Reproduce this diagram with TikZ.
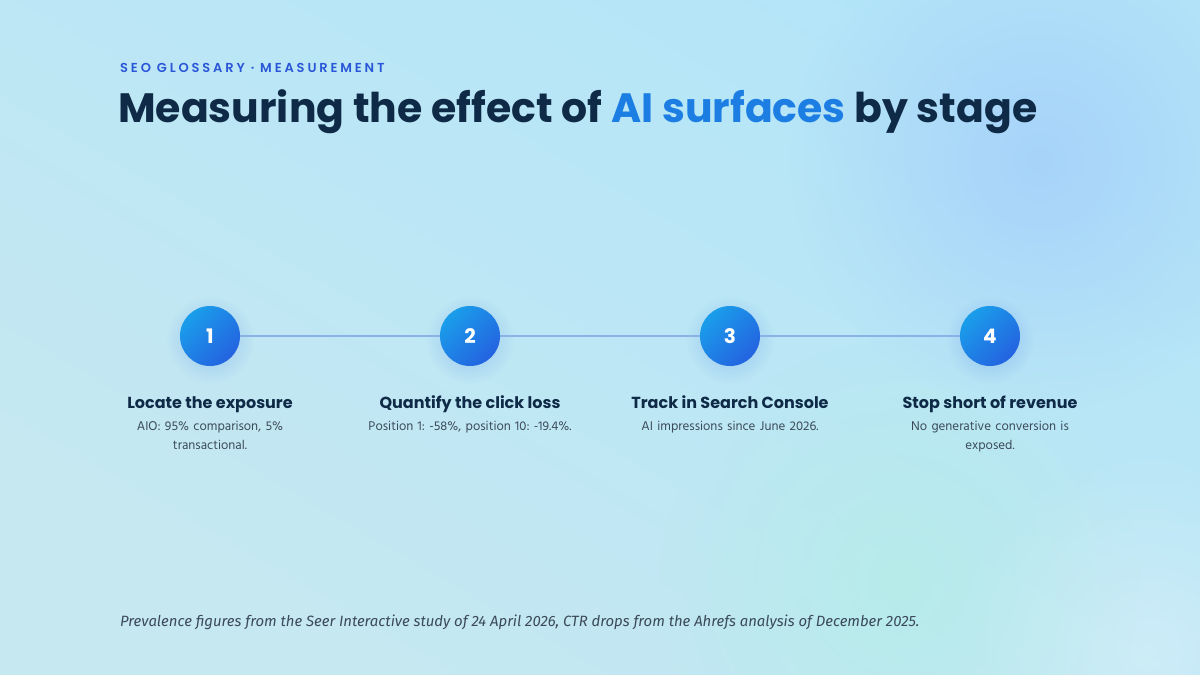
\documentclass[tikz,border=0pt]{standalone}
\usepackage{fontspec}
\usetikzlibrary{fadings}
\frenchspacing
\newfontfamily\titlefont{Poppins}[UprightFont=* Bold]
\newfontfamily\headfont{Poppins}[UprightFont=* Bold]
\newfontfamily\eyefont{Poppins}[UprightFont=* SemiBold, LetterSpace=22]
\newfontfamily\bodyfont{Hind Madurai}
\newfontfamily\footfont{Fira Sans}[UprightFont=* Italic]
\definecolor{bgA}{HTML}{B3E5F8}
\definecolor{bgB}{HTML}{C6E8F1}
\definecolor{blobblue}{HTML}{A6D2FA}
\definecolor{blobteal}{HTML}{B4EEE6}
\definecolor{navy}{HTML}{0E2A46}
\definecolor{accent}{HTML}{1C7EE3}
\definecolor{eyeblue}{HTML}{2A56D8}
\definecolor{bodygray}{HTML}{3B4A5A}
\definecolor{cA}{HTML}{1A9EEA}
\definecolor{cB}{HTML}{2462E0}
\definecolor{linec}{HTML}{8AB2E6}
\tikzfading[name=softblob, inner color=transparent!0, outer color=transparent!100]
\tikzset{
  stepcircle/.style={circle, minimum size=60pt, inner sep=0pt, top color=cA, bottom color=cB, shading angle=45, text=white, font=\titlefont\fontsize{20}{24}\selectfont},
  stephead/.style={anchor=base, text=navy, font=\headfont\fontsize{16}{18}\selectfont},
  stepbody/.style={anchor=north, text=bodygray, align=center, text width=240pt, font=\bodyfont\fontsize{13}{19}\selectfont},
  link/.style={draw=linec, line width=2pt},
  glow/.style={fill=cB, opacity=0.28, path fading=softblob}
}
\begin{document}
\begin{tikzpicture}[x=1pt,y=-1pt]
\useasboundingbox (0,0) rectangle (1200,675);
\shade[top color=bgA, bottom color=bgB, shading angle=-30] (0,0) rectangle (1200,675);
\fill[blobblue, opacity=0.95, path fading=softblob] (1040,160) circle (250);
\fill[blobteal, opacity=0.7, path fading=softblob] (900,580) circle (240);
\fill[white, opacity=0.25, path fading=softblob] (1150,650) circle (200);
% header
\node[anchor=base west, inner sep=0pt, text=eyeblue, font=\eyefont\fontsize{13}{15}\selectfont] (eyebrow) at (120,72) {SEO GLOSSARY · MEASUREMENT};
\node[anchor=base west, inner sep=0pt, text=navy, font=\titlefont\fontsize{41}{46}\selectfont] (title) at (118,122) {Measuring the effect of \textcolor{accent}{AI surfaces} by stage};
% glows
\foreach \x in {210,470,730,990} \fill[glow] (\x,340) circle (44);
% circles
\node[stepcircle] (c1) at (210,336) {1};
\node[stepcircle] (c2) at (470,336) {2};
\node[stepcircle] (c3) at (730,336) {3};
\node[stepcircle] (c4) at (990,336) {4};
\draw[link] (c1) -- (c2);
\draw[link] (c2) -- (c3);
\draw[link] (c3) -- (c4);
% headings
\node[stephead] (h1) at (210,408) {Locate the exposure};
\node[stephead] (h2) at (470,408) {Quantify the click loss};
\node[stephead] (h3) at (730,408) {Track in Search Console};
\node[stephead] (h4) at (990,408) {Stop short of revenue};
% bodies
\node[stepbody] (d1) at (210,418) {AIO: 95\% comparison, 5\%\\ transactional.};
\node[stepbody] (d2) at (470,418) {Position 1: -58\%, position 10: -19.4\%.};
\node[stepbody] (d3) at (730,418) {AI impressions since June 2026.};
\node[stepbody] (d4) at (990,418) {No generative conversion is\\ exposed.};
% footer
\node[anchor=base west, inner sep=0pt, text=bodygray, font=\footfont\fontsize{14.9}{17}\selectfont] (foot) at (120,626) {Prevalence figures from the Seer Interactive study of 24 April 2026, CTR drops from the Ahrefs analysis of December 2025.};
\end{tikzpicture}
\end{document}
